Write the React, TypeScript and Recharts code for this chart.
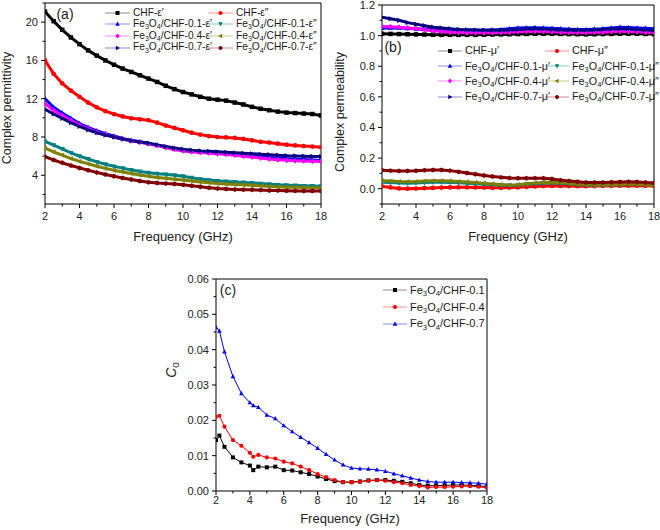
import React from 'react';
import { LineChart, Line, XAxis, YAxis, ReferenceArea, Legend } from 'recharts';

const FONT = 'Arial, "Liberation Sans", Helvetica, sans-serif';

// frequency grids (GHz)
const freqAB = [2, 2.5, 3, 3.5, 4, 4.5, 5, 5.5, 6, 6.5, 7, 7.5, 8, 8.5, 9, 9.5, 10, 10.5, 11, 11.5, 12, 12.5, 13, 13.5, 14, 14.5, 15, 15.5, 16, 16.5, 17, 17.5, 18];
const freqC = [2, 2.2, 2.5, 3, 3.5, 4, 4.2, 4.5, 5, 5.5, 6, 6.5, 7, 7.5, 8, 8.5, 9, 9.5, 10, 10.5, 11, 11.5, 12, 12.5, 13, 13.5, 14, 14.5, 15, 15.5, 16, 16.5, 17, 17.5, 18];

const xTicks = [2, 3, 4, 5, 6, 7, 8, 9, 10, 11, 12, 13, 14, 15, 16, 17, 18];
const yTicksA = [2, 4, 6, 8, 10, 12, 14, 16, 18, 20, 22];
const yTicksB = [-0.1, 0, 0.1, 0.2, 0.3, 0.4, 0.5, 0.6, 0.7, 0.8, 0.9, 1.0, 1.1, 1.2];
const yTicksC = [0, 0.005, 0.01, 0.015, 0.02, 0.025, 0.03, 0.035, 0.04, 0.045, 0.05, 0.055, 0.06];

// (a) complex permittivity
const chfEps1 = [21.1, 20.1, 19.2, 18.4, 17.7, 17.05, 16.5, 16.0, 15.55, 15.15, 14.8, 14.45, 14.1, 13.75, 13.35, 13.0, 12.7, 12.45, 12.2, 12.0, 11.9, 11.8, 11.6, 11.4, 11.15, 10.95, 10.8, 10.65, 10.55, 10.5, 10.45, 10.4, 10.25];
const chfEps2 = [16.0, 14.6, 13.6, 12.85, 12.2, 11.6, 11.1, 10.7, 10.4, 10.15, 9.95, 9.85, 9.75, 9.5, 9.2, 8.95, 8.7, 8.45, 8.25, 8.1, 8.0, 7.95, 7.9, 7.8, 7.65, 7.5, 7.42, 7.3, 7.2, 7.12, 7.05, 7.0, 6.93];
const fe01Eps1 = [12.0, 11.1, 10.5, 9.95, 9.4, 9.0, 8.65, 8.35, 8.1, 7.85, 7.65, 7.5, 7.35, 7.15, 6.95, 6.75, 6.6, 6.5, 6.45, 6.4, 6.35, 6.3, 6.25, 6.15, 6.05, 5.95, 5.85, 5.78, 5.72, 5.68, 5.65, 5.6, 5.55];
const fe01Eps2 = [7.55, 7.15, 6.75, 6.35, 6.0, 5.7, 5.4, 5.15, 4.93, 4.75, 4.55, 4.4, 4.27, 4.17, 4.1, 4.0, 3.9, 3.75, 3.6, 3.5, 3.42, 3.36, 3.3, 3.25, 3.2, 3.13, 3.06, 3.0, 2.96, 2.93, 2.9, 2.88, 2.86];
const fe04Eps1 = [11.5, 10.8, 10.25, 9.75, 9.25, 8.85, 8.5, 8.25, 8.0, 7.8, 7.6, 7.45, 7.3, 7.1, 6.9, 6.7, 6.55, 6.45, 6.38, 6.32, 6.25, 6.18, 6.1, 6.0, 5.9, 5.8, 5.7, 5.62, 5.56, 5.52, 5.5, 5.47, 5.45];
const fe04Eps2 = [6.85, 6.45, 6.1, 5.75, 5.45, 5.2, 4.95, 4.72, 4.52, 4.35, 4.18, 4.03, 3.9, 3.78, 3.68, 3.58, 3.5, 3.4, 3.3, 3.22, 3.15, 3.1, 3.05, 3.0, 2.95, 2.9, 2.84, 2.8, 2.76, 2.74, 2.72, 2.71, 2.7];
const fe07Eps1 = [10.9, 10.4, 9.95, 9.5, 9.1, 8.75, 8.45, 8.2, 8.0, 7.8, 7.62, 7.48, 7.35, 7.18, 7.0, 6.85, 6.72, 6.62, 6.55, 6.5, 6.45, 6.4, 6.35, 6.3, 6.25, 6.2, 6.15, 6.1, 6.05, 6.02, 6.0, 5.97, 5.95];
const fe07Eps2 = [5.95, 5.6, 5.3, 5.02, 4.77, 4.52, 4.3, 4.08, 3.9, 3.72, 3.55, 3.4, 3.28, 3.2, 3.15, 3.08, 3.0, 2.9, 2.8, 2.7, 2.62, 2.56, 2.52, 2.5, 2.48, 2.45, 2.42, 2.4, 2.38, 2.37, 2.36, 2.36, 2.35];

// (b) complex permeability
const chfMu1 = [1.012, 1.011, 1.01, 1.009, 1.008, 1.007, 1.006, 1.005, 1.005, 1.005, 1.005, 1.005, 1.006, 1.007, 1.008, 1.009, 1.01, 1.011, 1.012, 1.012, 1.012, 1.011, 1.01, 1.009, 1.008, 1.009, 1.01, 1.011, 1.012, 1.012, 1.012, 1.011, 1.01];
const chfMu2 = [0.016, 0.008, 0.002, 0.0, 0.001, 0.003, 0.005, 0.007, 0.008, 0.009, 0.009, 0.008, 0.007, 0.006, 0.006, 0.007, 0.009, 0.012, 0.015, 0.017, 0.018, 0.018, 0.017, 0.016, 0.016, 0.017, 0.018, 0.019, 0.02, 0.02, 0.02, 0.019, 0.018];
const fe01Mu1 = [1.05, 1.05, 1.05, 1.048, 1.045, 1.042, 1.04, 1.04, 1.04, 1.038, 1.035, 1.035, 1.035, 1.037, 1.04, 1.045, 1.05, 1.051, 1.052, 1.05, 1.048, 1.045, 1.042, 1.04, 1.04, 1.042, 1.045, 1.05, 1.055, 1.053, 1.05, 1.048, 1.045];
const fe01Mu2 = [0.042, 0.04, 0.037, 0.036, 0.037, 0.04, 0.042, 0.042, 0.041, 0.039, 0.036, 0.033, 0.029, 0.025, 0.022, 0.021, 0.023, 0.028, 0.032, 0.035, 0.036, 0.034, 0.03, 0.026, 0.023, 0.021, 0.022, 0.024, 0.026, 0.028, 0.028, 0.026, 0.023];
const fe04Mu1 = [1.06, 1.058, 1.055, 1.05, 1.045, 1.038, 1.032, 1.027, 1.022, 1.02, 1.018, 1.018, 1.018, 1.019, 1.02, 1.022, 1.025, 1.027, 1.028, 1.027, 1.025, 1.022, 1.02, 1.02, 1.02, 1.021, 1.022, 1.025, 1.028, 1.027, 1.025, 1.022, 1.02];
const fe04Mu2 = [0.052, 0.05, 0.047, 0.046, 0.047, 0.05, 0.052, 0.052, 0.05, 0.047, 0.044, 0.041, 0.036, 0.031, 0.027, 0.024, 0.026, 0.032, 0.038, 0.041, 0.042, 0.04, 0.035, 0.03, 0.026, 0.024, 0.024, 0.026, 0.028, 0.03, 0.029, 0.025, 0.021];
const fe07Mu1 = [1.12, 1.11, 1.1, 1.085, 1.075, 1.065, 1.055, 1.05, 1.045, 1.04, 1.038, 1.036, 1.035, 1.035, 1.035, 1.037, 1.04, 1.043, 1.045, 1.043, 1.04, 1.037, 1.035, 1.035, 1.035, 1.037, 1.04, 1.043, 1.045, 1.043, 1.04, 1.037, 1.035];
const fe07Mu2 = [0.12, 0.118, 0.116, 0.116, 0.117, 0.12, 0.122, 0.122, 0.118, 0.11, 0.102, 0.094, 0.086, 0.079, 0.074, 0.07, 0.068, 0.068, 0.069, 0.068, 0.063, 0.056, 0.05, 0.045, 0.041, 0.04, 0.04, 0.042, 0.044, 0.045, 0.044, 0.041, 0.037];

// (c) C0
const c0Fe01 = [0.0144, 0.0157, 0.0125, 0.0095, 0.0081, 0.0072, 0.0059, 0.0069, 0.0067, 0.0069, 0.0059, 0.0058, 0.0053, 0.0048, 0.0041, 0.0034, 0.0028, 0.0025, 0.0025, 0.0027, 0.003, 0.0031, 0.0031, 0.0029, 0.0026, 0.0022, 0.0017, 0.0015, 0.0015, 0.0016, 0.0017, 0.0017, 0.0016, 0.0015, 0.0012];
const c0Fe04 = [0.021, 0.0213, 0.0182, 0.0144, 0.0128, 0.0108, 0.0097, 0.0102, 0.0095, 0.0092, 0.0083, 0.0078, 0.0069, 0.0059, 0.0048, 0.0039, 0.0031, 0.0025, 0.0025, 0.0026, 0.0029, 0.0031, 0.0029, 0.0025, 0.0022, 0.0017, 0.0014, 0.001, 0.0011, 0.0011, 0.0012, 0.0013, 0.0014, 0.0012, 0.0009];
const c0Fe07 = [0.0463, 0.0453, 0.0394, 0.0324, 0.0276, 0.025, 0.0242, 0.0237, 0.0215, 0.0205, 0.0185, 0.0168, 0.0152, 0.0137, 0.0121, 0.0104, 0.0088, 0.0074, 0.0065, 0.0063, 0.0062, 0.006, 0.0056, 0.0049, 0.0043, 0.0037, 0.0031, 0.0027, 0.0025, 0.0025, 0.0025, 0.0024, 0.0023, 0.0022, 0.0019];

type Shape = 'square' | 'circle' | 'up' | 'down' | 'diamond' | 'left' | 'right' | 'hexagon';
interface SeriesDef {
  key: string;
  label: string;
  color: string;
  shape: Shape;
  values: number[];
}

const seriesA: SeriesDef[] = [
  { key: 'chf1', label: 'CHF-ε′', color: '#000000', shape: 'square', values: chfEps1 },
  { key: 'chf2', label: 'CHF-ε″', color: '#ff0000', shape: 'circle', values: chfEps2 },
  { key: 'f01a', label: 'Fe3O4/CHF-0.1-ε′', color: '#0000ff', shape: 'up', values: fe01Eps1 },
  { key: 'f01b', label: 'Fe3O4/CHF-0.1-ε″', color: '#008080', shape: 'down', values: fe01Eps2 },
  { key: 'f04a', label: 'Fe3O4/CHF-0.4-ε′', color: '#ff00ff', shape: 'diamond', values: fe04Eps1 },
  { key: 'f04b', label: 'Fe3O4/CHF-0.4-ε″', color: '#808000', shape: 'left', values: fe04Eps2 },
  { key: 'f07a', label: 'Fe3O4/CHF-0.7-ε′', color: '#000080', shape: 'right', values: fe07Eps1 },
  { key: 'f07b', label: 'Fe3O4/CHF-0.7-ε″', color: '#800000', shape: 'hexagon', values: fe07Eps2 },
];

const seriesB: SeriesDef[] = [
  { key: 'chf1', label: 'CHF-μ′', color: '#000000', shape: 'square', values: chfMu1 },
  { key: 'chf2', label: 'CHF-μ″', color: '#ff0000', shape: 'circle', values: chfMu2 },
  { key: 'f01a', label: 'Fe3O4/CHF-0.1-μ′', color: '#0000ff', shape: 'up', values: fe01Mu1 },
  { key: 'f01b', label: 'Fe3O4/CHF-0.1-μ″', color: '#008080', shape: 'down', values: fe01Mu2 },
  { key: 'f04a', label: 'Fe3O4/CHF-0.4-μ′', color: '#ff00ff', shape: 'diamond', values: fe04Mu1 },
  { key: 'f04b', label: 'Fe3O4/CHF-0.4-μ″', color: '#808000', shape: 'left', values: fe04Mu2 },
  { key: 'f07a', label: 'Fe3O4/CHF-0.7-μ′', color: '#000080', shape: 'right', values: fe07Mu1 },
  { key: 'f07b', label: 'Fe3O4/CHF-0.7-μ″', color: '#800000', shape: 'hexagon', values: fe07Mu2 },
];

const seriesC: SeriesDef[] = [
  { key: 'c01', label: 'Fe3O4/CHF-0.1', color: '#000000', shape: 'square', values: c0Fe01 },
  { key: 'c04', label: 'Fe3O4/CHF-0.4', color: '#ff0000', shape: 'circle', values: c0Fe04 },
  { key: 'c07', label: 'Fe3O4/CHF-0.7', color: '#0000ff', shape: 'up', values: c0Fe07 },
];

function buildRows(freq: number[], series: SeriesDef[]) {
  return freq.map((f, i) => {
    const row: Record<string, number> = { f };
    series.forEach((s) => {
      row[s.key] = s.values[i];
    });
    return row;
  });
}

const rowsA = buildRows(freqAB, seriesA);
const rowsB = buildRows(freqAB, seriesB);
const rowsC = buildRows(freqC, seriesC);

const SHAPES: Record<string, number[][]> = {
  up: [[0, -1.25], [-1.15, 0.85], [1.15, 0.85]],
  down: [[0, 1.25], [-1.15, -0.85], [1.15, -0.85]],
  left: [[-1.25, 0], [0.85, -1.15], [0.85, 1.15]],
  right: [[1.25, 0], [-0.85, -1.15], [-0.85, 1.15]],
  diamond: [[0, -1.3], [1.1, 0], [0, 1.3], [-1.1, 0]],
  hexagon: [[0, -1.1], [0.95, -0.55], [0.95, 0.55], [0, 1.1], [-0.95, 0.55], [-0.95, -0.55]],
};

function Marker({ cx, cy, shape, color, size }: { cx?: number; cy?: number; shape: Shape; color: string; size: number }) {
  if (cx == null || cy == null || isNaN(cx) || isNaN(cy)) return null;
  const r = size / 2;
  if (shape === 'square') return <rect x={cx - r} y={cy - r} width={size} height={size} fill={color} />;
  if (shape === 'circle') return <circle cx={cx} cy={cy} r={r * 1.05} fill={color} />;
  const pts = SHAPES[shape].map(([dx, dy]) => `${cx + dx * r},${cy + dy * r}`).join(' ');
  return <polygon points={pts} fill={color} />;
}

const subStyle: React.CSSProperties = { fontSize: '0.7em', verticalAlign: 'baseline', position: 'relative', top: '0.3em' };

function chem(label: string) {
  if (!label.startsWith('Fe3O4')) return label;
  return (
    <>
      Fe<sub style={subStyle}>3</sub>O<sub style={subStyle}>4</sub>
      {label.slice(5)}
    </>
  );
}

function LegendBox({ items, colX, rowH, fontSize, symW }: { items: SeriesDef[]; colX: number[]; rowH: number; fontSize: number; symW: number }) {
  const twoCol = colX.length > 1;
  return (
    <div style={{ position: 'relative', fontFamily: FONT, fontSize, fontWeight: 400, color: '#1a1a1a' }}>
      {items.map((s, i) => {
        const col = twoCol ? i % 2 : 0;
        const row = twoCol ? Math.floor(i / 2) : i;
        return (
          <div
            key={s.key}
            style={{ position: 'absolute', left: colX[col], top: row * rowH, height: rowH, display: 'flex', alignItems: 'center', whiteSpace: 'nowrap' }}
          >
            <svg width={symW} height={10} style={{ overflow: 'visible' }}>
              <line x1={0} x2={symW} y1={5} y2={5} stroke={s.color} strokeOpacity={0.45} strokeWidth={1} />
              <Marker cx={symW / 2} cy={5} shape={s.shape} color={s.color} size={4} />
            </svg>
            <span style={{ marginLeft: 3, lineHeight: 1 }}>{chem(s.label)}</span>
          </div>
        );
      })}
    </div>
  );
}

function BottomTick(props: any) {
  const { x, y, payload, labelDy } = props;
  const v = payload.value;
  const major = v % 2 === 0;
  return (
    <g>
      <line x1={x} x2={x} y1={y} y2={y + (major ? 4 : 2.5)} stroke="#000" strokeWidth={1} />
      {major && (
        <text x={x} y={y + labelDy} textAnchor="middle" fontFamily={FONT} fontSize={11} fill="#222">
          {v}
        </text>
      )}
    </g>
  );
}

function LeftTick(props: any) {
  const { x, y, payload, isMajor, fmt, fontSize } = props;
  const v = payload.value;
  const major = isMajor(v);
  return (
    <g>
      <line x1={x - (major ? 4 : 2.5)} x2={x} y1={y} y2={y} stroke="#000" strokeWidth={1} />
      {major && (
        <text x={x - 7} y={y} dy="0.36em" textAnchor="end" fontFamily={FONT} fontSize={fontSize} fill="#222">
          {fmt(v)}
        </text>
      )}
    </g>
  );
}

interface PanelProps {
  left: number;
  top: number;
  width: number;
  height: number;
  margin: { top: number; right: number; bottom: number; left: number };
  rows: Record<string, number>[];
  series: SeriesDef[];
  yTicks: number[];
  yDomain: [number, number];
  isMajorY: (v: number) => boolean;
  fmtY: (v: number) => string;
  yFontSize: number;
  xLabelDy: number;
  markerSize: number;
  lineWidth: number;
  legendPos: { left: number; top: number };
  legendCols: number[];
  legendRowH: number;
  legendFont: number;
  legendSymW: number;
  children?: React.ReactNode;
}

function Panel(p: PanelProps) {
  return (
    <div style={{ position: 'absolute', left: p.left, top: p.top, width: p.width, height: p.height }}>
      <LineChart width={p.width} height={p.height} data={p.rows} margin={p.margin}>
        <XAxis
          dataKey="f"
          type="number"
          domain={[2, 18]}
          ticks={xTicks}
          interval={0}
          allowDataOverflow
          axisLine={false}
          tickLine={false}
          tickSize={0}
          tickMargin={0}
          height={30}
          tick={(tp: any) => <BottomTick {...tp} labelDy={p.xLabelDy} />}
        />
        <YAxis
          type="number"
          domain={p.yDomain}
          ticks={p.yTicks}
          interval={0}
          allowDataOverflow
          axisLine={false}
          tickLine={false}
          tickSize={0}
          tickMargin={0}
          width={40}
          tick={(tp: any) => <LeftTick {...tp} isMajor={p.isMajorY} fmt={p.fmtY} fontSize={p.yFontSize} />}
        />
        <ReferenceArea x1={2} x2={18} y1={p.yDomain[0]} y2={p.yDomain[1]} fill="none" stroke="#000" strokeWidth={1} />
        {p.series.map((s) => (
          <Line
            key={s.key}
            dataKey={s.key}
            type="linear"
            stroke={s.color}
            strokeWidth={p.lineWidth}
            isAnimationActive={false}
            activeDot={false}
            dot={(dp: any) => (
              <Marker key={`${s.key}-${dp.index}`} cx={dp.cx} cy={dp.cy} shape={s.shape} color={s.color} size={p.markerSize} />
            )}
          />
        ))}
        <Legend
          layout="horizontal"
          verticalAlign="middle"
          align="center"
          wrapperStyle={{ left: p.legendPos.left, top: p.legendPos.top, width: 1, height: 1 }}
          content={() => (
            <LegendBox items={p.series} colX={p.legendCols} rowH={p.legendRowH} fontSize={p.legendFont} symW={p.legendSymW} />
          )}
        />
      </LineChart>
      {p.children}
    </div>
  );
}

function Title({ x, y, rotate, size, children, italic }: { x: number; y: number; rotate?: boolean; size: number; children: React.ReactNode; italic?: boolean }) {
  return (
    <div
      style={{
        position: 'absolute',
        left: x,
        top: y,
        transform: `translate(-50%, -50%)${rotate ? ' rotate(-90deg)' : ''}`,
        whiteSpace: 'nowrap',
        fontFamily: FONT,
        fontSize: size,
        fontWeight: 400,
        color: '#222',
        lineHeight: 1,
        fontStyle: italic ? 'italic' : 'normal',
      }}
    >
      {children}
    </div>
  );
}

export default function App() {
  return (
    <div style={{ position: 'absolute', left: 0, top: 0, width: 660, height: 530, background: '#fff', overflow: 'hidden' }}>
      <Panel
        left={0}
        top={0}
        width={330}
        height={260}
        margin={{ top: 3, right: 9, bottom: 26, left: 5 }}
        rows={rowsA}
        series={seriesA}
        yTicks={yTicksA}
        yDomain={[1, 22]}
        isMajorY={(v) => v % 4 === 0}
        fmtY={(v) => String(v)}
        yFontSize={11}
        xLabelDy={16}
        markerSize={4.5}
        lineWidth={3}
        legendPos={{ left: 105, top: 7 }}
        legendCols={[0, 103]}
        legendRowH={11.6}
        legendFont={10.2}
        legendSymW={25}
      >
        <Title x={7} y={108} rotate size={12.5}>Complex permittivity</Title>
        <Title x={183} y={236} size={13}>Frequency (GHz)</Title>
        <Title x={65} y={14} size={14}>(a)</Title>
      </Panel>

      <Panel
        left={330}
        top={0}
        width={330}
        height={260}
        margin={{ top: 5, right: 6, bottom: 26, left: 12 }}
        rows={rowsB}
        series={seriesB}
        yTicks={yTicksB}
        yDomain={[-0.1, 1.2]}
        isMajorY={(v) => Math.round(v * 10) % 2 === 0 && v >= 0}
        fmtY={(v) => v.toFixed(1)}
        yFontSize={11}
        xLabelDy={16}
        markerSize={4.5}
        lineWidth={3}
        legendPos={{ left: 108, top: 43 }}
        legendCols={[0, 107]}
        legendRowH={15.3}
        legendFont={10.8}
        legendSymW={24}
      >
        <Title x={10} y={112} rotate size={12.5}>Complex permeability</Title>
        <Title x={188} y={236} size={13}>Frequency (GHz)</Title>
        <Title x={63} y={47} size={14}>(b)</Title>
      </Panel>

      <Panel
        left={150}
        top={270}
        width={360}
        height={260}
        margin={{ top: 9, right: 23, bottom: 9, left: 26 }}
        rows={rowsC}
        series={seriesC}
        yTicks={yTicksC}
        yDomain={[0, 0.06]}
        isMajorY={(v) => Math.round(v * 1000) % 10 === 0}
        fmtY={(v) => v.toFixed(2)}
        yFontSize={11}
        xLabelDy={13}
        markerSize={4}
        lineWidth={1}
        legendPos={{ left: 233, top: 12 }}
        legendCols={[0]}
        legendRowH={16.7}
        legendFont={11}
        legendSymW={24}
      >
        <Title x={21} y={100} rotate size={14} italic>
          C<sub style={{ ...subStyle, fontStyle: 'normal' }}>0</sub>
        </Title>
        <Title x={200} y={248} size={13}>Frequency (GHz)</Title>
        <Title x={78} y={20} size={14}>(c)</Title>
      </Panel>
    </div>
  );
}
